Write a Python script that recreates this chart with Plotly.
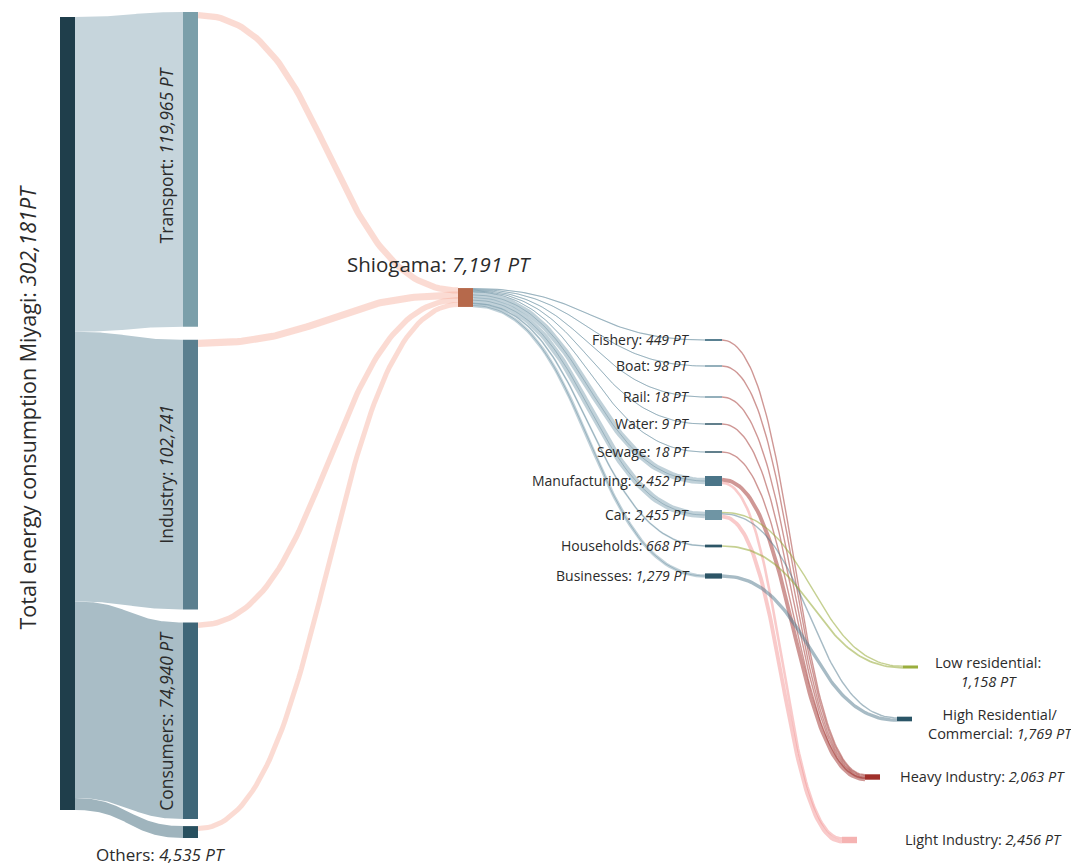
import numpy as np
import plotly.graph_objects as go

# ---------------- data ----------------
total_name = "Total energy consumption Miyagi"
total_value = 302181

sectors = ["Transport", "Industry", "Consumers", "Others"]
sector_values = [119965, 102741, 74940, 4535]
sector_to_city = [2400, 2700, 2100, 1900]   # pink links, estimated from their width

city = "Shiogama"
city_value = 7191

uses = ["Fishery", "Boat", "Rail", "Water", "Sewage",
        "Manufacturing", "Car", "Households", "Businesses"]
use_values = [449, 98, 18, 9, 18, 2452, 2455, 668, 1279]

zones = ["Low residential", "High Residential", "Heavy Industry", "Light Industry"]
zone_values = [1158, 1769, 2063, 2456]
zone_fmt = ["Low residential:<br><i>{} PT</i>",
            "High Residential/<br>Commercial: <i>{} PT</i>",
            "Heavy Industry: <i>{} PT</i>",
            "Light Industry: <i>{} PT</i>"]

flow_src = ["Fishery", "Boat", "Rail", "Water", "Sewage", "Manufacturing",
            "Manufacturing", "Car", "Car", "Car", "Households", "Businesses"]
flow_dst = ["Heavy Industry", "Heavy Industry", "Heavy Industry", "Heavy Industry",
            "Heavy Industry", "Heavy Industry", "Light Industry", "Low residential",
            "High Residential", "Light Industry", "Low residential", "High Residential"]
flow_val = [449, 98, 18, 9, 18, 1471, 981, 490, 490, 1475, 668, 1279]

# ---------------- layout / style ----------------
W, H = 1071, 865
FONT = "Open Sans"
TXT = "#2b2b2b"
k = 793 / total_value          # px per PT
USE_K = 0.0041                 # sub nodes are drawn a bit fatter

TOTAL_X = (60, 75)
TOTAL_TOP = 17
SECT_X = (183, 198)
SECT_TOP = 12
SECT_GAPS = [0, 13, 13, 7]
CITY_X = (458, 473)
CITY_MID = 297.5
USE_X = (705, 722)
USE_MID = [340, 366, 397, 424, 452, 481, 515, 546, 576]
ZONE_X0 = [903, 897, 865, 842]
ZONE_W = 15
ZONE_MID = [667, 719, 777, 840]

sect_node_col = ["#7b9faa", "#5b7f8f", "#3e6678", "#28505f"]
sect_band_col = ["#c6d5dc", "#b7c9d1", "#a9bdc6", "#9fb4bd"]
use_col = ["#4b7588", "#6f95a4", "#6f95a4", "#2c5566", "#2c5566",
           "#4b7588", "#6f95a4", "#2c5566", "#2c5566"]
zone_col = ["#9aae3e", "#2a5567", "#a0302b", "#f5b3b2"]
zone_link_col = ["rgba(150,170,55,0.55)", "rgba(80,120,140,0.5)",
                 "rgba(160,48,43,0.5)", "rgba(244,150,150,0.5)"]

fig = go.Figure()


def bez(x0, y0, x1, y1, n=80):
    t = np.linspace(0, 1, n)
    xm = (x0 + x1) / 2
    x = (1-t)**3*x0 + 3*(1-t)**2*t*xm + 3*(1-t)*t**2*xm + t**3*x1
    y = (1-t)**3*y0 + 3*(1-t)**2*t*y0 + 3*(1-t)*t**2*y1 + t**3*y1
    return x, y


def rect(x0, x1, y0, y1, color, name):
    fig.add_trace(go.Scatter(x=[x0, x1, x1, x0, x0], y=[y0, y0, y1, y1, y0],
                             fill="toself", fillcolor=color, mode="lines",
                             line=dict(width=0), hoverinfo="text", text=name))


def band(x0, x1, t0, b0, t1, b1, color, name):
    xt, yt = bez(x0, t0, x1, t1)
    xb, yb = bez(x0, b0, x1, b1)
    fig.add_trace(go.Scatter(x=np.r_[xt, xb[::-1]], y=np.r_[yt, yb[::-1]],
                             fill="toself", fillcolor=color, mode="lines",
                             line=dict(width=0), hoverinfo="text", text=name))


def stroke(x0, y0, x1, y1, w, color, name):
    x, y = bez(x0, y0, x1, y1)
    fig.add_trace(go.Scatter(x=x, y=y, mode="lines", line=dict(width=w, color=color),
                             hoverinfo="text", text=name))


# ---- left part: total -> sectors ----
sect_h = [v * k for v in sector_values]
sect_top = []
y = SECT_TOP
for h, g in zip(sect_h, SECT_GAPS):
    y += g
    sect_top.append(y)
    y += h

yl = TOTAL_TOP
for i, s in enumerate(sectors):
    band(TOTAL_X[1], SECT_X[0], yl, yl + sect_h[i], sect_top[i], sect_top[i] + sect_h[i],
         sect_band_col[i], s)
    yl += sect_h[i]

# ---- pink links sectors -> city ----
city_h = city_value * k
city_top = CITY_MID - city_h / 2
for i, s in enumerate(sectors):
    w = sector_to_city[i] * k
    y_end = city_top + (i + 0.5) * city_h / len(sectors)
    stroke(SECT_X[1], sect_top[i] + w / 2, CITY_X[0], y_end, w,
           "rgba(245,170,150,0.42)", f"{s} → {city}")

# ---- city -> uses ----
cw = [max(1.0, v * k) for v in use_values]
scale = city_h / sum(cw)
pos = city_top
for i, u in enumerate(uses):
    yc = pos + cw[i] * scale / 2
    pos += cw[i] * scale
    stroke(CITY_X[1], yc, USE_X[0], USE_MID[i], cw[i], "rgba(130,163,180,0.5)", f"{city} → {u}")
    stroke(CITY_X[1], yc, USE_X[0], USE_MID[i], 0.7, "rgba(90,128,146,0.55)", f"{city} → {u}")

# ---- uses -> zones ----
zone_h = [max(2.0, v * k) for v in zone_values]
fw = [max(1.4, v * k) for v in flow_val]
start_y = {}
for i, u in enumerate(uses):
    idx = [j for j in range(len(flow_src)) if flow_src[j] == u]
    idx.sort(key=lambda j: ZONE_MID[zones.index(flow_dst[j])])
    tot = sum(fw[j] for j in idx)
    y = USE_MID[i] - tot / 2
    for j in idx:
        start_y[j] = y + fw[j] / 2
        y += fw[j]
end_y = {}
for z, zname in enumerate(zones):
    idx = [j for j in range(len(flow_dst)) if flow_dst[j] == zname]
    idx.sort(key=lambda j: USE_MID[uses.index(flow_src[j])])
    top = ZONE_MID[z] - zone_h[z] / 2
    for n, j in enumerate(idx):
        end_y[j] = top + (n + 0.5) * zone_h[z] / len(idx)
for j in range(len(flow_val)):
    z = zones.index(flow_dst[j])
    stroke(USE_X[1], start_y[j], ZONE_X0[z], end_y[j], fw[j], zone_link_col[z],
           f"{flow_src[j]} → {flow_dst[j]}: {flow_val[j]:,} PT")

# ---- nodes ----
rect(TOTAL_X[0], TOTAL_X[1], TOTAL_TOP, TOTAL_TOP + total_value * k, "#1f3e4b", total_name)
for i, s in enumerate(sectors):
    rect(SECT_X[0], SECT_X[1], sect_top[i], sect_top[i] + sect_h[i], sect_node_col[i], s)
rect(CITY_X[0], CITY_X[1], city_top, city_top + city_h, "#b6694b", city)
for i, u in enumerate(uses):
    h = max(1.5, use_values[i] * USE_K)
    rect(USE_X[0], USE_X[1], USE_MID[i] - h / 2, USE_MID[i] + h / 2, use_col[i], u)
for z, zname in enumerate(zones):
    rect(ZONE_X0[z], ZONE_X0[z] + ZONE_W, ZONE_MID[z] - zone_h[z] / 2,
         ZONE_MID[z] + zone_h[z] / 2, zone_col[z], zname)

# ---- labels ----
ann = []
ann.append(dict(x=27, y=TOTAL_TOP + total_value * k / 2 - 6, textangle=-90,
                text=f"{total_name}: <i>{total_value:,}PT</i>", font=dict(size=21.5)))
for i, s in enumerate(sectors[:3]):
    ann.append(dict(x=SECT_X[0] - 17, y=sect_top[i] + sect_h[i] / 2 - (14 if i == 0 else 0),
                    textangle=-90,
                    text=f"{s}: <i>{sector_values[i]:,}" + (" PT</i>" if i != 1 else "</i>"),
                    font=dict(size=17.5)))
ann.append(dict(x=160, y=854, text=f"{sectors[3]}: <i>{sector_values[3]:,} PT</i>",
                font=dict(size=17)))
ann.append(dict(x=439, y=264, text=f"{city}: <i>{city_value:,} PT</i>", font=dict(size=20.5)))
for i, u in enumerate(uses):
    ann.append(dict(x=692, y=USE_MID[i] - 1, xanchor="right",
                    text=f"{u}: <i>{use_values[i]:,} PT</i>", font=dict(size=14)))
zone_lab_x = [988, 1000, 982, 983]
for z in range(len(zones)):
    ann.append(dict(x=zone_lab_x[z], y=ZONE_MID[z] - 1 + (6 if z < 2 else 0),
                    text=zone_fmt[z].format(f"{zone_values[z]:,}"), font=dict(size=14.5)))
for a in ann:
    a.update(xref="x", yref="y", showarrow=False)
    a["font"].update(family=FONT, color=TXT)

fig.update_layout(
    width=W, height=H, margin=dict(l=0, r=0, t=0, b=0),
    paper_bgcolor="white", plot_bgcolor="white", showlegend=False,
    xaxis=dict(range=[0, W], visible=False, fixedrange=True),
    yaxis=dict(range=[H, 0], visible=False, fixedrange=True),
    annotations=ann, font=dict(family=FONT, color=TXT),
)

fig.write_html("out.html", config={"displayModeBar": False},
               post_script="document.body.style.margin='0';")
